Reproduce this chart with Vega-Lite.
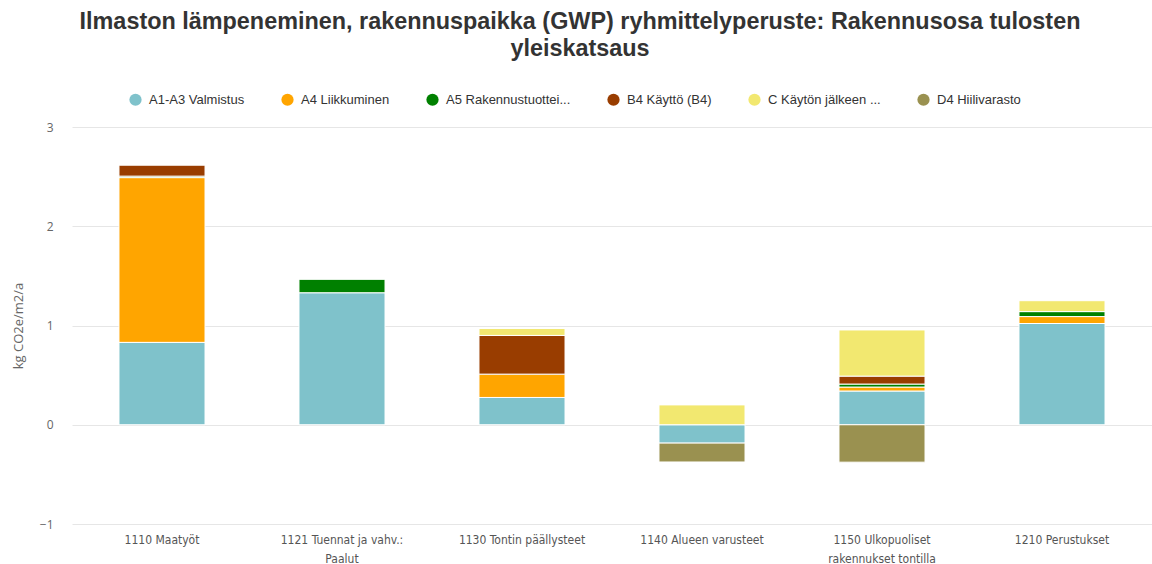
{
  "$schema": "https://vega.github.io/schema/vega-lite/v6.json",
  "width": 1152,
  "height": 564,
  "autosize": {"type": "fit", "contains": "padding"},
  "padding": {"left": 12, "right": 0, "top": 9, "bottom": 0},
  "background": "white",
  "title": {
    "text": ["Ilmaston lämpeneminen, rakennuspaikka (GWP) ryhmittelyperuste: Rakennusosa tulosten", "yleiskatsaus"],
    "font": "Liberation Sans",
    "fontSize": 23.4,
    "fontWeight": "bold",
    "color": "#333333",
    "anchor": "middle",
    "lineHeight": 27,
    "offset": 60,
    "dx": -32
  },
  "data": {
    "values": [
      {"osa": "1110 Maatyöt", "moduuli": "A1-A3 Valmistus", "arvo": 0.83},
      {"osa": "1110 Maatyöt", "moduuli": "A4 Liikkuminen", "arvo": 1.66},
      {"osa": "1110 Maatyöt", "moduuli": "A5 Rakennustuottei...", "arvo": 0.015},
      {"osa": "1110 Maatyöt", "moduuli": "B4 Käyttö (B4)", "arvo": 0.11},
      {"osa": "1121 Tuennat ja vahv.: Paalut", "moduuli": "A1-A3 Valmistus", "arvo": 1.33},
      {"osa": "1121 Tuennat ja vahv.: Paalut", "moduuli": "A5 Rakennustuottei...", "arvo": 0.135},
      {"osa": "1130 Tontin päällysteet", "moduuli": "A1-A3 Valmistus", "arvo": 0.275},
      {"osa": "1130 Tontin päällysteet", "moduuli": "A4 Liikkuminen", "arvo": 0.235},
      {"osa": "1130 Tontin päällysteet", "moduuli": "B4 Käyttö (B4)", "arvo": 0.39},
      {"osa": "1130 Tontin päällysteet", "moduuli": "C Käytön jälkeen ...", "arvo": 0.07},
      {"osa": "1140 Alueen varusteet", "moduuli": "A1-A3 Valmistus", "arvo": -0.185},
      {"osa": "1140 Alueen varusteet", "moduuli": "C Käytön jälkeen ...", "arvo": 0.2},
      {"osa": "1140 Alueen varusteet", "moduuli": "D4 Hiilivarasto", "arvo": -0.19},
      {"osa": "1150 Ulkopuoliset rakennukset tontilla", "moduuli": "A1-A3 Valmistus", "arvo": 0.34},
      {"osa": "1150 Ulkopuoliset rakennukset tontilla", "moduuli": "A4 Liikkuminen", "arvo": 0.04},
      {"osa": "1150 Ulkopuoliset rakennukset tontilla", "moduuli": "A5 Rakennustuottei...", "arvo": 0.03},
      {"osa": "1150 Ulkopuoliset rakennukset tontilla", "moduuli": "B4 Käyttö (B4)", "arvo": 0.08},
      {"osa": "1150 Ulkopuoliset rakennukset tontilla", "moduuli": "C Käytön jälkeen ...", "arvo": 0.465},
      {"osa": "1150 Ulkopuoliset rakennukset tontilla", "moduuli": "D4 Hiilivarasto", "arvo": -0.377},
      {"osa": "1210 Perustukset", "moduuli": "A1-A3 Valmistus", "arvo": 1.02},
      {"osa": "1210 Perustukset", "moduuli": "A4 Liikkuminen", "arvo": 0.07},
      {"osa": "1210 Perustukset", "moduuli": "A5 Rakennustuottei...", "arvo": 0.05},
      {"osa": "1210 Perustukset", "moduuli": "C Käytön jälkeen ...", "arvo": 0.11}
    ]
  },
  "mark": {"type": "bar", "stroke": "white", "strokeWidth": 1},
  "encoding": {
    "x": {
      "field": "osa",
      "type": "nominal",
      "sort": null,
      "title": null,
      "scale": {"paddingInner": 0.522, "paddingOuter": 0.261},
      "axis": {
        "labelAngle": 0,
        "labelFont": "DejaVu Sans Condensed",
        "labelFontSize": 12,
        "labelColor": "#555555",
        "labelLineHeight": 19,
        "labelPadding": 10,
        "ticks": false,
        "domain": false,
        "labelLimit": 200,
        "labelExpr": "datum.label == '1121 Tuennat ja vahv.: Paalut' ? ['1121 Tuennat ja vahv.:', 'Paalut'] : datum.label == '1150 Ulkopuoliset rakennukset tontilla' ? ['1150 Ulkopuoliset', 'rakennukset tontilla'] : datum.label"
      }
    },
    "y": {
      "field": "arvo",
      "type": "quantitative",
      "stack": "zero",
      "scale": {"domain": [-1, 3], "nice": false},
      "title": "kg CO2e/m2/a",
      "axis": {
        "values": [-1, 0, 1, 2, 3],
        "format": "d",
        "ticks": false,
        "domain": false,
        "gridColor": "#e6e6e6",
        "labelFont": "Open Sans",
        "labelFontSize": 12,
        "labelColor": "#666666",
        "labelPadding": 19,
        "titleFont": "Open Sans",
        "titleFontSize": 13,
        "titleFontWeight": "normal",
        "titleColor": "#666666",
        "titlePadding": 14
      }
    },
    "color": {
      "field": "moduuli",
      "type": "nominal",
      "scale": {
        "domain": ["A1-A3 Valmistus", "A4 Liikkuminen", "A5 Rakennustuottei...", "B4 Käyttö (B4)", "C Käytön jälkeen ...", "D4 Hiilivarasto"],
        "range": ["#7fc2cb", "#ffa500", "#008000", "#993d00", "#f2e870", "#9a9150"]
      },
      "legend": {
        "title": null,
        "orient": "none",
        "direction": "horizontal",
        "legendX": 57,
        "legendY": -34,
        "symbolType": "circle",
        "symbolSize": 150,
        "symbolStrokeWidth": 0,
        "labelFont": "Liberation Sans",
        "labelFontSize": 13,
        "labelColor": "#333333",
        "labelOffset": 7,
        "columnPadding": 36,
        "labelLimit": 300
      }
    },
    "order": {"field": "moduuli", "sort": "ascending"}
  },
  "config": {"view": {"stroke": null}}
}
